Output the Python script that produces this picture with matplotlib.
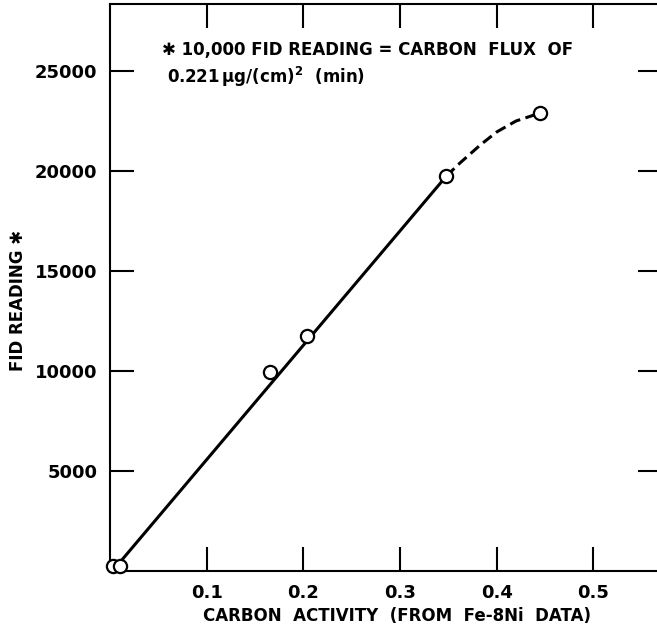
import matplotlib
matplotlib.use("Agg")
import matplotlib.pyplot as plt

# measured points
activity = [0.0036, 0.0105, 0.165, 0.204, 0.348, 0.445]
fid = [275, 275, 9950, 11750, 19750, 22900]

# solid fitted line (end points)
line_x = [0.007, 0.348]
line_y = [250, 19750]

# dashed extrapolation curve
dash_x = [0.348, 0.362, 0.383, 0.400, 0.420, 0.445]
dash_y = [19750, 20400, 21300, 21950, 22500, 22900]

xticks = [0.1, 0.2, 0.3, 0.4, 0.5]
xtick_labels = ["0.1", "0.2", "0.3", "0.4", "0.5"]
yticks = [5000, 10000, 15000, 20000, 25000]
ytick_labels = ["5000", "10000", "15000", "20000", "25000"]

plt.rcParams['font.family'] = ['DejaVu Sans']
fig = plt.figure(figsize=(6.57, 6.3), dpi=100)
ax = fig.add_axes([110/657, 1-571/630, 552/657, 567/630])

ax.plot(line_x, line_y, color='black', lw=2.2, solid_capstyle='butt')
ax.plot(dash_x, dash_y, color='black', lw=2.2, linestyle=(0, (3.6, 1.8)))
ax.plot(activity, fid, linestyle='none', marker='o', markersize=9.5,
        markerfacecolor='white', markeredgecolor='black', markeredgewidth=1.6,
        clip_on=False, zorder=5)

ax.set_xlim(0, 0.571)
ax.set_ylim(0, 28350)
ax.set_xticks(xticks)
ax.set_xticklabels(xtick_labels)
ax.set_yticks(yticks)
ax.set_yticklabels(ytick_labels)
ax.tick_params(direction='in', length=17, width=1.5, top=True, right=True,
               labelsize=13, pad=9)
for lab in ax.get_xticklabels() + ax.get_yticklabels():
    lab.set_fontweight('bold')
for s in ax.spines.values():
    s.set_linewidth(1.5)

fig.text(162/657, 1-50/630, "\u2731 10,000 FID READING = CARBON  FLUX  OF",
         fontsize=12, fontweight='bold', va='center', ha='left')
fig.text(167/657, 1-77/630, r"0.221$\,\mathbf{\mu}$g/(cm)$^{\mathbf{2}}$  (min)",
         fontsize=12, fontweight='bold', va='center', ha='left')

fig.text(397/657, 1-616/630, "CARBON  ACTIVITY  (FROM  Fe-8Ni  DATA)",
         fontsize=12, fontweight='bold', ha='center', va='center')
fig.text(18/657, 1-300/630, "FID READING \u2731", rotation=90,
         fontsize=12, fontweight='bold', ha='center', va='center')

fig.savefig("out.png", dpi=100)
